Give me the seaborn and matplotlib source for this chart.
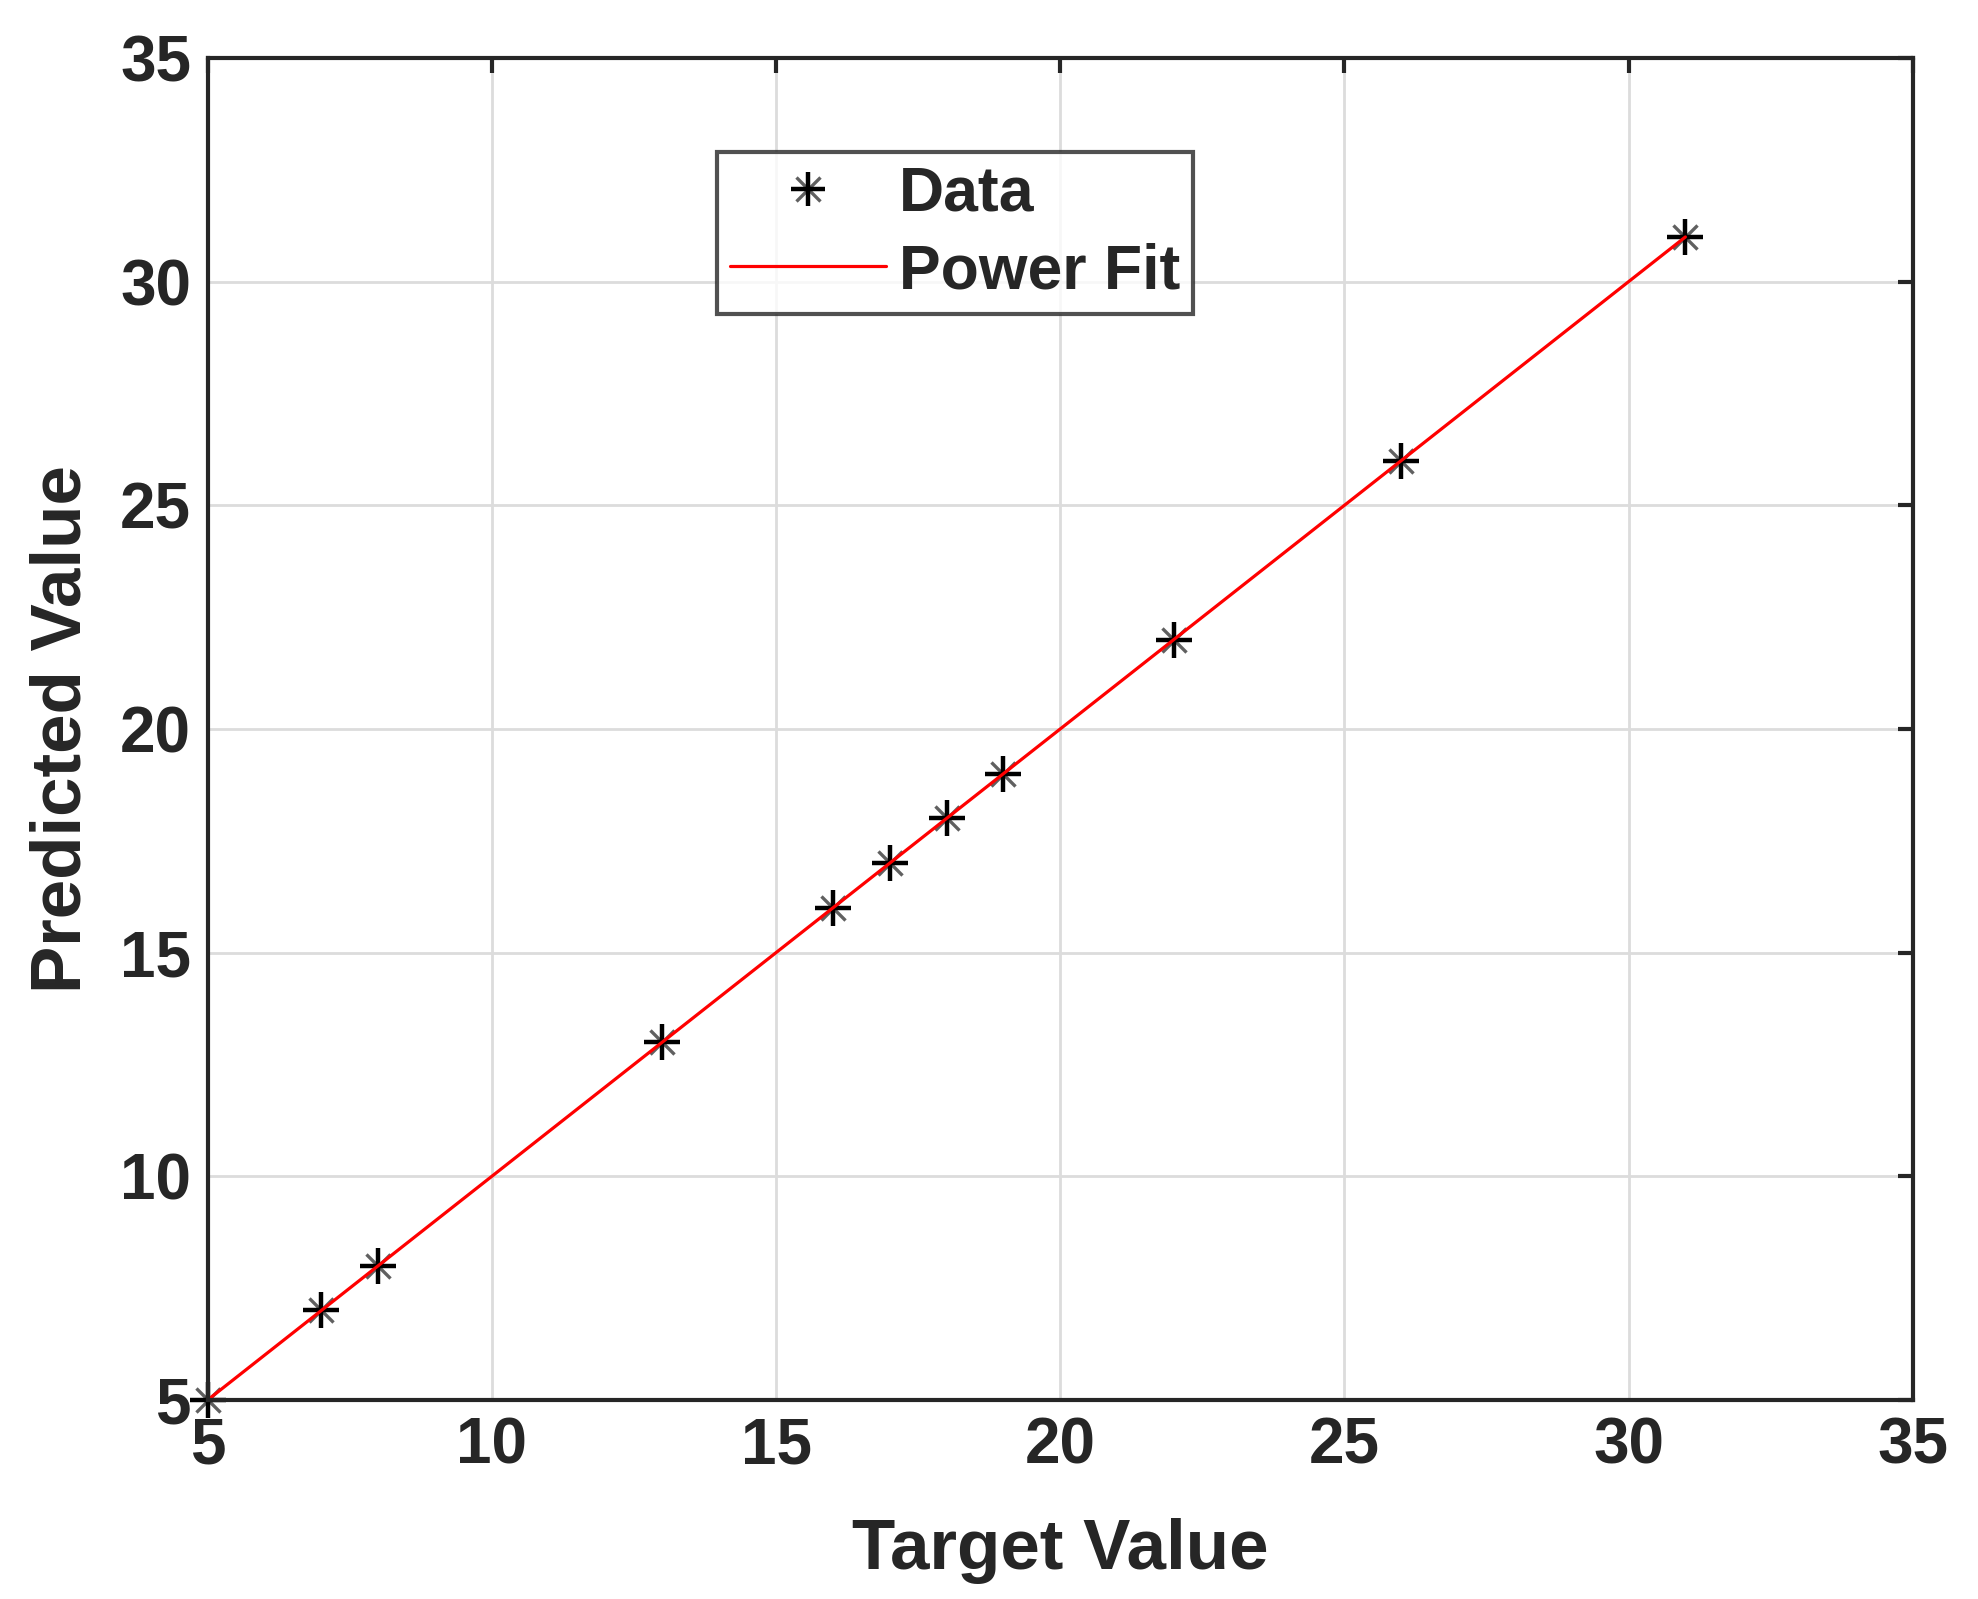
import matplotlib
matplotlib.use("Agg")
import matplotlib.pyplot as plt
import seaborn as sns
import pandas as pd
from matplotlib.lines import Line2D

target = [5, 7, 8, 13, 16, 17, 18, 19, 22, 26, 31]
predicted = [5, 7, 8, 13, 16, 17, 18, 19, 22, 26, 31]
fit_x = [5, 31]
fit_y = [5, 31]
ticks = [5, 10, 15, 20, 25, 30, 35]

sns.set_style("white")
plt.rcParams['font.family'] = ['Liberation Sans', 'DejaVu Sans']
plt.rcParams['font.weight'] = 'bold'

fig = plt.figure(figsize=(19.78, 15.99), dpi=100)
ax = fig.add_axes([0.105, 0.1245, 0.862, 0.8392])

df = pd.DataFrame({"x": target, "y": predicted})
fit = pd.DataFrame({"x": fit_x, "y": fit_y})

sns.lineplot(data=fit, x="x", y="y", color="red", linewidth=2.3, ax=ax, zorder=4)
sns.scatterplot(data=df, x="x", y="y", marker="x", s=300, color="#606060",
                linewidth=2.4, ax=ax, zorder=2, clip_on=False)
sns.scatterplot(data=df, x="x", y="y", marker="+", s=650, color="black",
                linewidth=3.2, ax=ax, zorder=3, clip_on=False)

ax.set_xlim(5, 35)
ax.set_ylim(5, 35)
ax.set_xticks(ticks)
ax.set_yticks(ticks)
ax.set_xticklabels([str(t) for t in ticks])
ax.set_yticklabels([str(t) for t in ticks])
ax.grid(True, color="#dcdcdc", linewidth=2.0)
ax.set_axisbelow(True)

for s in ax.spines.values():
    s.set_visible(True)
    s.set_color("#262626")
    s.set_linewidth(3.0)
    s.set_zorder(5)

ax.tick_params(direction="in", length=11, width=3.0, color="#262626",
               labelsize=46, labelcolor="#262626", top=True, right=True, pad=12)
for lab in ax.get_xticklabels() + ax.get_yticklabels():
    lab.set_fontweight("bold")

ax.set_xlabel("Target Value", fontsize=51, fontweight="bold", color="#262626", labelpad=30)
ax.set_ylabel("Predicted Value", fontsize=51, fontweight="bold", color="#262626", labelpad=18)

h_x = Line2D([], [], marker="x", linestyle="", color="#606060", markersize=17, markeredgewidth=2.4)
h_p = Line2D([], [], marker="+", linestyle="", color="black", markersize=25, markeredgewidth=3.2)
h_l = Line2D([], [], color="red", linewidth=2.3)
leg = ax.legend([(h_x, h_p), h_l], ["Data", "Power Fit"], loc="upper left",
                bbox_to_anchor=(0.299, 0.93),
                fontsize=45, frameon=True, fancybox=False, handlelength=2.5,
                borderpad=0.2, labelspacing=0.3, handletextpad=0.2, borderaxespad=0)
leg.get_frame().set_edgecolor("#262626")
leg.get_frame().set_linewidth(3.0)
for t in leg.get_texts():
    t.set_fontweight("bold")

fig.savefig("out.png", dpi=100)
